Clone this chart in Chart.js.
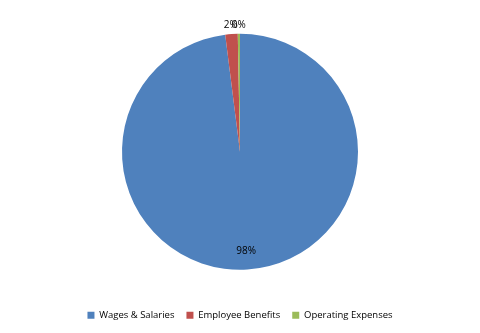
<!DOCTYPE html>
<html>
<head>
<meta charset="utf-8">
<script src="https://cdn.jsdelivr.net/npm/chart.js@4/dist/chart.umd.min.js"></script>
<style>
  html, body { margin: 0; padding: 0; background: #fff; }
  #wrap { width: 480px; height: 333px; }
</style>
</head>
<body>
<div id="wrap"><canvas id="pie" width="480" height="333"></canvas></div>
<script>
const labels = ["Wages & Salaries", "Employee Benefits", "Operating Expenses"];
const shares = [98.0, 1.7, 0.3];
const colors = ["#4F81BD", "#C0504D", "#9BBB59"];

// percent labels, inside for the big slice, outside for the slivers
const pctLabels = {
  id: "pctLabels",
  afterDatasetsDraw(chart) {
    const ctx = chart.ctx;
    const meta = chart.getDatasetMeta(0);
    const total = shares.reduce((a, b) => a + b, 0);
    ctx.save();
    ctx.font = "10px 'Open Sans', sans-serif";
    ctx.fillStyle = "#000";
    ctx.textAlign = "center";
    ctx.textBaseline = "middle";
    meta.data.forEach((arc, i) => {
      const mid = (arc.startAngle + arc.endAngle) / 2;
      const pct = shares[i] / total * 100;
      const r = pct > 10 ? arc.outerRadius * 0.84 : arc.outerRadius + 9;
      const x = arc.x + Math.cos(mid) * r;
      const y = arc.y + Math.sin(mid) * r;
      ctx.fillText(Math.round(pct) + "%", x, y);
    });
    ctx.restore();
  }
};

new Chart(document.getElementById("pie"), {
  type: "pie",
  data: {
    labels: labels,
    datasets: [{
      data: shares,
      backgroundColor: colors,
      borderWidth: 0,
      radius: 118
    }]
  },
  options: {
    responsive: false,
    animation: false,
    layout: { padding: { top: 5, bottom: 3 } },
    plugins: {
      tooltip: { enabled: false },
      legend: {
        position: "bottom",
        labels: {
          boxWidth: 7,
          boxHeight: 7,
          padding: 12,
          color: "#000",
          font: { family: "'Open Sans', sans-serif", size: 9.5 }
        }
      }
    }
  },
  plugins: [pctLabels]
});
</script>
</body>
</html>
